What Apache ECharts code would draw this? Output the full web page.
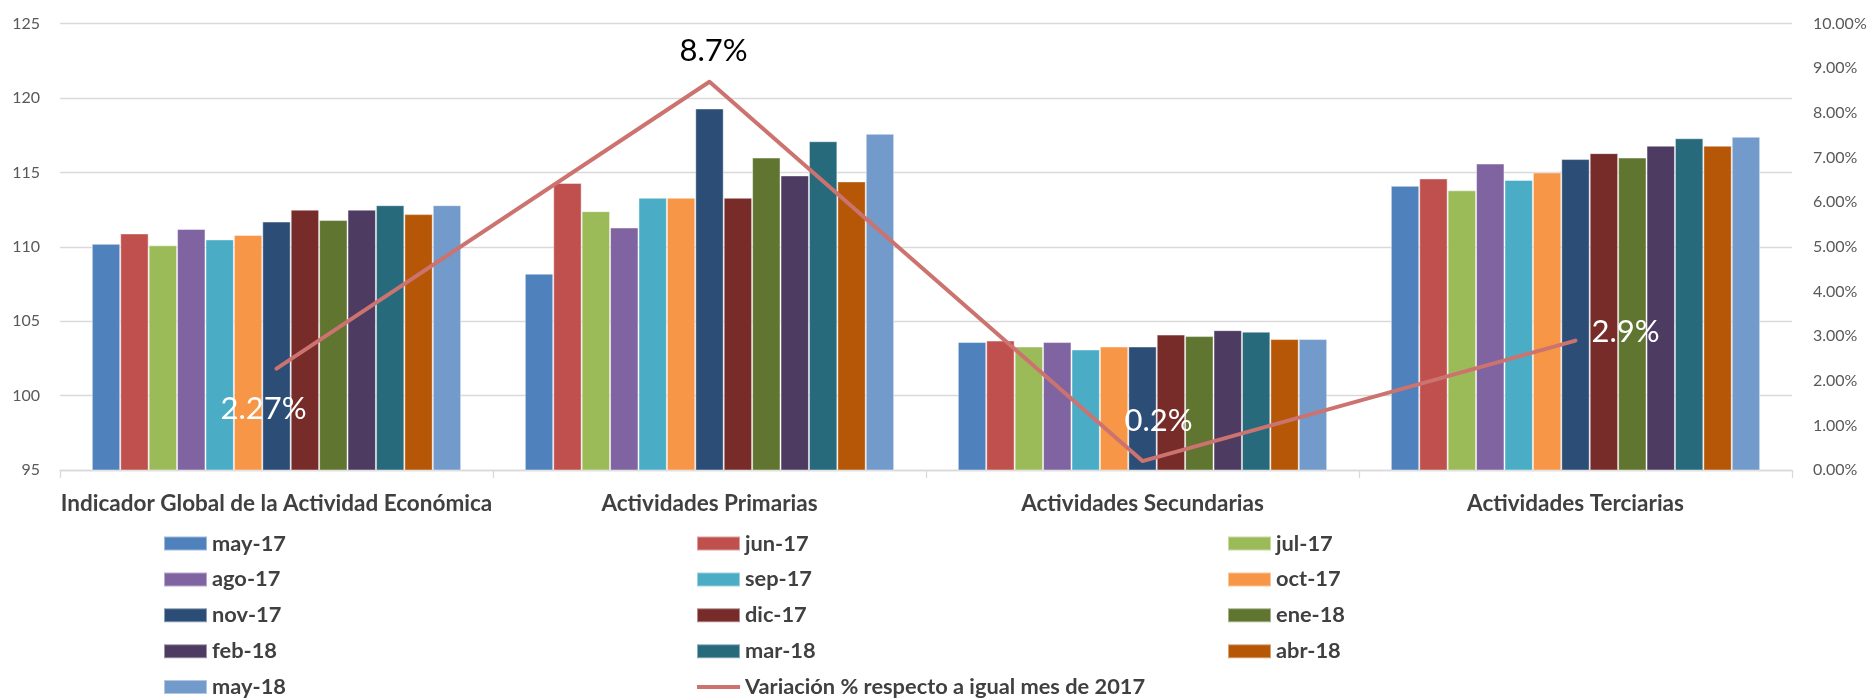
<!DOCTYPE html>
<html><head><meta charset="utf-8">
<script src="https://cdn.jsdelivr.net/npm/echarts@6/dist/echarts.min.js"></script>
<style>html,body{margin:0;padding:0;background:#fff}#c{width:1871px;height:699px}</style>
</head><body><div id="c"></div>
<script>
const categories = ['Indicador Global de la Actividad Económica', 'Actividades Primarias', 'Actividades Secundarias', 'Actividades Terciarias'];
const months = ['may-17','jun-17','jul-17','ago-17','sep-17','oct-17','nov-17','dic-17','ene-18','feb-18','mar-18','abr-18','may-18'];
const may17 = [110.2, 108.2, 103.6, 114.1];
const jun17 = [110.9, 114.3, 103.7, 114.6];
const jul17 = [110.1, 112.4, 103.3, 113.8];
const ago17 = [111.2, 111.3, 103.6, 115.6];
const sep17 = [110.5, 113.3, 103.1, 114.5];
const oct17 = [110.8, 113.3, 103.3, 115.0];
const nov17 = [111.7, 119.3, 103.3, 115.9];
const dic17 = [112.5, 113.3, 104.1, 116.3];
const ene18 = [111.8, 116.0, 104.0, 116.0];
const feb18 = [112.5, 114.8, 104.4, 116.8];
const mar18 = [112.8, 117.1, 104.3, 117.3];
const abr18 = [112.2, 114.4, 103.8, 116.8];
const may18 = [112.8, 117.6, 103.8, 117.4];
const variacionName = 'Variación % respecto a igual mes de 2017';
const variacion = [2.27, 8.7, 0.2, 2.9];
const variacionLabels = ['2.27%', '8.7%', '0.2%', '2.9%'];
const leftTicks = [95, 125, 5];
const rightTicks = [0, 10, 1];

const monthValues = [may17, jun17, jul17, ago17, sep17, oct17, nov17, dic17, ene18, feb18, mar18, abr18, may18];
const colors = ['#4F81BD','#C0504D','#9BBB59','#8064A2','#4BACC6','#F79646','#2C4D75','#772C2A','#5F7530','#4D3B62','#276A7C','#B65708','#729ACA'];
const lineColor = '#CC7370';
const FONT = 'Lato';

const barSeries = months.map((m, i) => ({
  name: m, type: 'bar', data: monthValues[i],
  barGap: '0%', barCategoryGap: '14.7%',
  itemStyle: { color: colors[i], borderColor: 'rgba(255,255,255,0.45)', borderWidth: 1 },
  emphasis: { disabled: true }
}));

const labelStyle = [
  { color: '#fff', offset: [-13, 40] },
  { color: '#000', offset: [4, -31] },
  { color: '#fff', offset: [16, -40] },
  { color: '#fff', offset: [50, -9] }
];

const lineSeries = {
  name: variacionName, type: 'line', yAxisIndex: 1,
  symbol: 'circle', symbolSize: 0.01, z: 5,
  lineStyle: { color: lineColor, width: 4, cap: 'round', join: 'round' },
  itemStyle: { color: lineColor },
  data: variacion.map((v, i) => ({
    value: v,
    label: {
      show: true, position: 'inside', formatter: variacionLabels[i],
      color: labelStyle[i].color, offset: labelStyle[i].offset,
      fontFamily: FONT, fontSize: 31
    }
  })),
  emphasis: { disabled: true }
};

const legendCols = [
  [months[0], months[3], months[6], months[9], months[12]],
  [months[1], months[4], months[7], months[10], { name: variacionName, icon: 'path://M0,0 M0,5 L43,5 L43,9 L0,9 Z M43,14' }],
  [months[2], months[5], months[8], months[11]]
];
const legendLeft = [163, 696, 1227];
const legends = legendCols.map((d, i) => ({
  data: d, orient: 'vertical', left: legendLeft[i], top: 532.5, height: 175, padding: 0,
  itemWidth: 43, itemHeight: 14, itemGap: 13.9, selectedMode: false,
  icon: 'rect',
  textStyle: { fontFamily: FONT, fontSize: 21.8, fontWeight: 'bold', color: '#404040' }
}));

const chart = echarts.init(document.getElementById('c'), null, { renderer: 'canvas' });
chart.setOption({
  animation: false,
  backgroundColor: '#fff',
  grid: { left: 60, right: 79, top: 23.7, bottom: 229, containLabel: false },
  legend: legends,
  xAxis: {
    type: 'category', data: categories,
    axisLine: { lineStyle: { color: '#D9D9D9', width: 1.3 } },
    axisTick: { show: true, length: 8, lineStyle: { color: '#D9D9D9', width: 1.3 } },
    axisLabel: { interval: 0, margin: 22, fontFamily: FONT, fontSize: 22.5, fontWeight: 'bold', color: '#404040' }
  },
  yAxis: [
    { type: 'value', min: leftTicks[0], max: leftTicks[1], interval: leftTicks[2],
      axisLine: { show: false }, axisTick: { show: false },
      splitLine: { lineStyle: { color: '#D9D9D9', width: 1.3 } },
      axisLabel: { margin: 20, fontFamily: FONT, fontSize: 16, color: '#595959' } },
    { type: 'value', min: rightTicks[0], max: rightTicks[1], interval: rightTicks[2], position: 'right',
      axisLine: { show: false }, axisTick: { show: false }, splitLine: { show: false },
      axisLabel: { margin: 21, fontFamily: FONT, fontSize: 16, color: '#595959', formatter: v => v.toFixed(2) + '%' } }
  ],
  series: [...barSeries, lineSeries]
});
</script></body></html>
